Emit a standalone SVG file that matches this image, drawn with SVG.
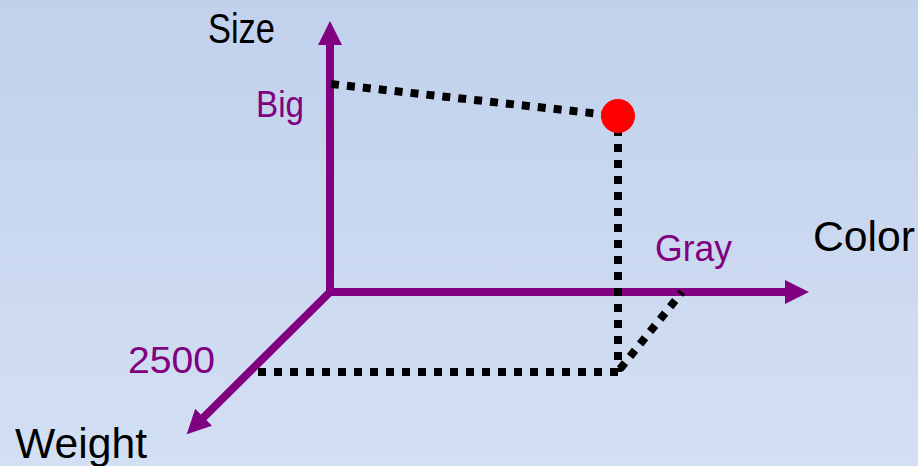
<svg xmlns="http://www.w3.org/2000/svg" width="918" height="466" viewBox="0 0 918 466">
  <defs>
    <linearGradient id="bg" x1="0" y1="0" x2="0" y2="1">
      <stop offset="0" stop-color="#c1d1ec"/>
      <stop offset="1" stop-color="#d3dff3"/>
    </linearGradient>
    <marker id="arr" markerUnits="userSpaceOnUse" markerWidth="26" markerHeight="24" refX="1" refY="12" orient="auto" viewBox="0 0 26 24">
      <path d="M0,0 L24,12 L0,24 Z" fill="#800080"/>
    </marker>
    <style>
      .axis { stroke: #800080; stroke-width: 8; fill: none; marker-end: url(#arr); }
      .dot { stroke: #000; stroke-width: 8; stroke-dasharray: 8 8; fill: none; }
      .lblK { font-family: "Liberation Sans", Arial, sans-serif; font-size: 42px; fill: #000; }
      .lblP { font-family: "Liberation Sans", Arial, sans-serif; font-size: 36px; fill: #800080; }
    </style>
  </defs>
  <rect width="918" height="466" fill="url(#bg)"/>
  <g id="connectors">
    <line class="axis" x1="330" y1="296" x2="330" y2="44"/>
    <line class="axis" x1="326" y1="292" x2="786" y2="292"/>
    <line class="axis" x1="330" y1="292" x2="203" y2="418"/>
    <line class="dot" x1="331" y1="84" x2="618" y2="116"/>
    <line class="dot" x1="618" y1="128" x2="618" y2="372"/>
    <line class="dot" x1="258" y1="372" x2="618" y2="372"/>
    <line class="dot" x1="620" y1="369" x2="682" y2="292"/>
  </g>
  <g id="point">
    <circle cx="618" cy="116" r="17" fill="#ff0000"/>
  </g>
  <g id="label-size"><text class="lblK" x="208" y="43" textLength="67" lengthAdjust="spacingAndGlyphs">Size</text></g>
  <g id="label-color"><text class="lblK" x="813" y="251" textLength="102" lengthAdjust="spacingAndGlyphs">Color</text></g>
  <g id="label-weight"><text class="lblK" x="15" y="458" textLength="132" lengthAdjust="spacingAndGlyphs">Weight</text></g>
  <g id="label-big"><text class="lblP" x="256" y="117" textLength="48" lengthAdjust="spacingAndGlyphs">Big</text></g>
  <g id="label-gray"><text class="lblP" x="655" y="261" textLength="77" lengthAdjust="spacingAndGlyphs">Gray</text></g>
  <g id="label-2500"><text class="lblP" x="128" y="373" textLength="87" lengthAdjust="spacingAndGlyphs">2500</text></g>
</svg>
